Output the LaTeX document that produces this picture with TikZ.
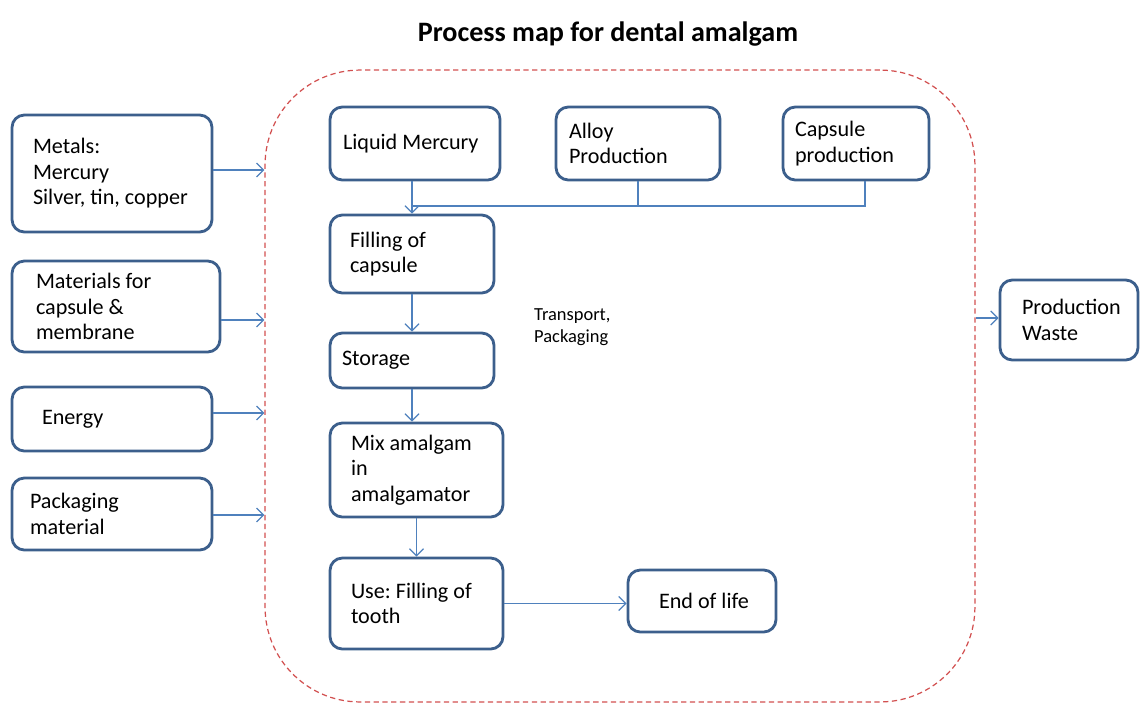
\documentclass[tikz,border=0pt]{standalone}
\usepackage{fontspec}
\setmainfont{Carlito}
\usepackage{xcolor}
\usetikzlibrary{arrows.meta}
\definecolor{boxline}{RGB}{60,95,140}
\definecolor{flowline}{RGB}{79,129,189}
\definecolor{plantline}{RGB}{210,80,80}
\frenchspacing

\begin{document}
\begin{tikzpicture}[x=0.02cm, y=-0.02cm,
    box/.style={draw=boxline, line width=1.6pt, rounded corners=7pt, align=flush left, fill=white,
                inner ysep=2pt, font=\fontsize{12.6}{14.5}\selectfont},
    flow/.style={draw=flowline, line width=0.7pt, -{Straight Barb[length=4pt,width=8pt]}},
    link/.style={draw=flowline, line width=0.7pt},
    plant/.style={draw=plantline, line width=0.7pt, dash pattern=on 3pt off 2pt, rounded corners=1.9cm}]
    \useasboundingbox (0,0) rectangle (1140,704);

    % Title
    \node[font=\bfseries\fontsize{16}{19}\selectfont] (title) at (608,34) {Process map for dental amalgam};

    % System boundary
    \node[plant, minimum width=14.2cm, minimum height=12.64cm] (plant) at (620,386) {};

    % Inputs
    \node[box, text width=3.16cm, inner xsep=0.42cm, minimum height=2.34cm] (metals) at (112,173.5) {Metals:\\Mercury\\\mbox{Silver, tin, copper}};
    \node[box, text width=3.2cm, inner xsep=0.48cm, minimum height=1.82cm] (materials) at (116,306.5) {\mbox{Materials for}\\capsule \&\\membrane};
    \node[box, text width=2.8cm, inner xsep=0.6cm, minimum height=1.28cm] (energy) at (112,419) {Energy};
    \node[box, text width=3.28cm, inner xsep=0.36cm, minimum height=1.44cm] (packaging) at (112,514) {Packaging\\material};

    % Process steps
    \node[box, text width=2.88cm, inner xsep=0.26cm, minimum height=1.46cm] (liquid) at (415,143.5) {\mbox{Liquid Mercury}};
    \node[box, text width=2.76cm, inner xsep=0.26cm, minimum height=1.46cm] (alloy) at (638,143.5) {Alloy\\Production};
    \node[box, text width=2.44cm, inner xsep=0.24cm, minimum height=1.46cm] (capsule) at (856,143.5) {Capsule\\production};
    \node[box, text width=2.48cm, inner xsep=0.4cm, minimum height=1.56cm] (filling) at (412,254) {Filling of\\capsule};
    \node[box, text width=2.8cm, inner xsep=0.24cm, minimum height=1.1cm] (storage) at (412,360.5) {Storage};
    \node[box, text width=2.62cm, inner xsep=0.42cm, minimum height=1.88cm] (mix) at (416.5,470) {\mbox{Mix amalgam}\\in\\\mbox{amalgamator}};
    \node[box, text width=2.62cm, inner xsep=0.42cm, minimum height=1.82cm] (use) at (416.5,603.5) {\mbox{Use: Filling of}\\tooth};
    \node[box, text width=1.72cm, inner xsep=0.62cm, minimum height=1.24cm] (endlife) at (702,601) {\mbox{End of life}};
    \node[anchor=west, align=flush left, font=\fontsize{10.5}{12.5}\selectfont] (transport) at (528,327) {Transport,\\Packaging};

    % Output
    \node[box, text width=1.88cm, inner xsep=0.44cm, minimum height=1.6cm] (waste) at (1069,320) {\mbox{Production}\\Waste};

    % Flows into and out of the boundary
    \draw[flow] (metals.east |- 0,170) -- (plant.west |- 0,170);
    \draw[flow] (materials.east |- 0,320) -- (plant.west |- 0,320);
    \draw[flow] (energy.east |- 0,413) -- (plant.west |- 0,413);
    \draw[flow] (packaging.east |- 0,515) -- (plant.west |- 0,515);
    \draw[flow] (plant.east |- 0,318) -- (waste.west |- 0,318);

    % Flows inside
    \coordinate (merge) at (filling.north |- 0,206);
    \draw[link] ([xshift=0.18cm]capsule.south) |- (merge);
    \draw[link] (alloy.south) -- (alloy.south |- merge);
    \draw[flow] (filling.north |- liquid.south) -- (filling.north);
    \draw[flow] (filling.south) -- (storage.north);
    \draw[flow] (storage.south) -- (storage.south |- mix.north);
    \draw[flow] (mix.south) -- (use.north);
    \draw[flow] (use.east) -- (use.east -| endlife.west);

\end{tikzpicture}
\end{document}
